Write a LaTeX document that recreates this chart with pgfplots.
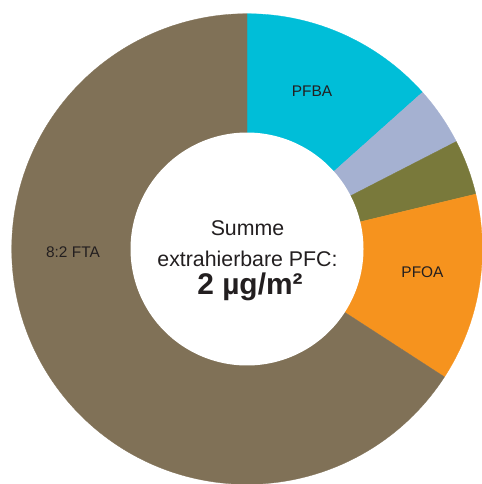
\documentclass[border=0pt]{standalone}
\usepackage{pgfplots}
\usepackage{pgfplotstable}
\pgfplotsset{compat=1.18}
\usepackage{fontspec}
\setmainfont{Liberation Sans}
\definecolor{cPFBA}{RGB}{0,190,216}
\definecolor{cLav}{RGB}{165,177,209}
\definecolor{cOlive}{RGB}{121,121,59}
\definecolor{cPFOA}{RGB}{246,147,30}
\definecolor{cFTA}{RGB}{128,113,87}
\definecolor{txt}{RGB}{35,31,32}
\pgfplotstableread{
label value
PFBA 13.4
Other1 4.05
Other2 3.8
PFOA 12.9
FTA 65.85
}\pfcdata
\pgfplotstablegetelem{0}{value}\of\pfcdata
\pgfmathsetmacro\aA{90-3.6*\pgfplotsretval}
\pgfplotstablegetelem{1}{value}\of\pfcdata
\pgfmathsetmacro\aB{\aA-3.6*\pgfplotsretval}
\pgfplotstablegetelem{2}{value}\of\pfcdata
\pgfmathsetmacro\aC{\aB-3.6*\pgfplotsretval}
\pgfplotstablegetelem{3}{value}\of\pfcdata
\pgfmathsetmacro\aD{\aC-3.6*\pgfplotsretval}
\pgfplotstablegetelem{4}{value}\of\pfcdata
\pgfmathsetmacro\aE{\aD-3.6*\pgfplotsretval}
\begin{document}%
\begin{tikzpicture}
\begin{axis}[
  scale only axis, width=482bp, height=484bp,
  xmin=0, xmax=482, ymin=0, ymax=484, y dir=reverse,
  hide axis, clip=true,
  trig format plots=deg,
]
\addplot[fill=cPFBA, draw=cPFBA, line width=0.3pt, domain=\aA:90, samples=80] ({247+235.3*cos(x)},{249-235.3*sin(x)}) -- (axis cs:247,249) -- cycle;
\addplot[fill=cLav, draw=cLav, line width=0.3pt, domain=\aB:\aA, samples=40] ({247+235.3*cos(x)},{249-235.3*sin(x)}) -- (axis cs:247,249) -- cycle;
\addplot[fill=cOlive, draw=cOlive, line width=0.3pt, domain=\aC:\aB, samples=40] ({247+235.3*cos(x)},{249-235.3*sin(x)}) -- (axis cs:247,249) -- cycle;
\addplot[fill=cPFOA, draw=cPFOA, line width=0.3pt, domain=\aD:\aC, samples=80] ({247+235.3*cos(x)},{249-235.3*sin(x)}) -- (axis cs:247,249) -- cycle;
\addplot[fill=cFTA, draw=cFTA, line width=0.3pt, domain=\aE:\aD, samples=300] ({247+235.3*cos(x)},{249-235.3*sin(x)}) -- (axis cs:247,249) -- cycle;
\addplot[fill=white, draw=none, domain=0:360, samples=300] ({247+116.5*cos(x)},{249-116.5*sin(x)}) -- cycle;
\node[anchor=base, text=txt, font=\fontsize{21.4}{24}\selectfont] at (axis cs:247.5,235) {Summe};
\node[anchor=base, text=txt, font=\fontsize{21.4}{24}\selectfont] at (axis cs:247.5,266) {extrahierbare PFC:};
\node[anchor=base, text=txt, font=\fontsize{30}{32}\selectfont\bfseries] at (axis cs:250,294.5) {2 µg/m²};
\node[anchor=base, text=txt, font=\fontsize{15.5}{17}\selectfont] at (axis cs:312,96.7) {PFBA};
\node[anchor=base, text=txt, font=\fontsize{15.5}{17}\selectfont] at (axis cs:73,257.5) {8:2 FTA};
\node[anchor=base, text=txt, font=\fontsize{15.5}{17}\selectfont] at (axis cs:422.5,277.3) {PFOA};
\coordinate (bbSW) at (axis cs:0,484);
\coordinate (bbNE) at (axis cs:482,0);
\end{axis}
\pgfresetboundingbox
\useasboundingbox (bbSW) rectangle (bbNE);
\end{tikzpicture}%
\end{document}
